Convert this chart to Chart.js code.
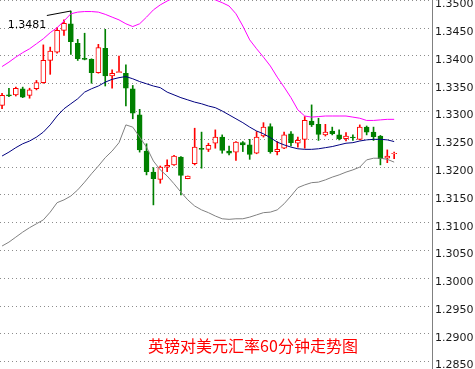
<!DOCTYPE html>
<html lang="zh-CN">
<head>
<meta charset="UTF-8">
<title>英镑对美元汇率60分钟走势图</title>
<script src="https://cdn.jsdelivr.net/npm/chart.js@4.4.0/dist/chart.umd.min.js"></script>
<style>
    html, body { margin: 0; padding: 0; background: #fff; }
    .chart-box { width: 475px; height: 369px; position: relative; }
</style>
</head>
<body>
<div class="chart-box"><canvas id="gbpChart"></canvas></div>
<script>
// hourly candles, oldest first
const opens  = [1.3311,1.3330,1.3330,1.3341,1.3329,1.3341,1.3352,1.3392,1.3407,1.3446,
                1.3458,1.3423,1.3396,1.3394,1.3370,1.3414,1.3364,1.3370,1.3369,1.3341,
                1.3294,1.3229,1.3191,1.3178,1.3200,1.3204,1.3218,1.3179,1.3206,1.3234,
                1.3232,1.3243,1.3254,1.3229,1.3227,1.3244,1.3240,1.3225,1.3256,1.3273,
                1.3228,1.3234,1.3260,1.3243,1.3250,1.3283,1.3277,1.3258,1.3265,1.3258,
                1.3251,1.3254,1.3250,1.3272,1.3263,1.3256,1.3216,1.3224];
const highs  = [1.3333,1.3342,1.3344,1.3344,1.3342,1.3356,1.3420,1.3416,1.3451,1.3465,
                1.3481,1.3430,1.3441,1.3395,1.3421,1.3448,1.3375,1.3400,1.3384,1.3347,
                1.3304,1.3242,1.3199,1.3202,1.3213,1.3221,1.3219,1.3184,1.3270,1.3263,
                1.3243,1.3267,1.3258,1.3238,1.3246,1.3246,1.3250,1.3264,1.3280,1.3278,
                1.3246,1.3263,1.3264,1.3254,1.3291,1.3312,1.3288,1.3277,1.3272,1.3267,
                1.3262,1.3258,1.3276,1.3274,1.3272,1.3257,1.3231,1.3227];
const lows   = [1.3305,1.3327,1.3328,1.3325,1.3324,1.3339,1.3351,1.3367,1.3405,1.3437,
                1.3403,1.3392,1.3393,1.3351,1.3369,1.3346,1.3342,1.3370,1.3310,1.3287,
                1.3227,1.3186,1.3132,1.3171,1.3192,1.3203,1.3150,1.3179,1.3204,1.3198,
                1.3228,1.3234,1.3225,1.3222,1.3212,1.3228,1.3214,1.3224,1.3254,1.3225,
                1.3222,1.3233,1.3238,1.3236,1.3234,1.3273,1.3248,1.3256,1.3258,1.3249,
                1.3247,1.3248,1.3249,1.3258,1.3248,1.3204,1.3208,1.3215];
const closes = [1.3329,1.3328,1.3342,1.3326,1.3339,1.3352,1.3392,1.3409,1.3446,1.3459,
                1.3426,1.3395,1.3394,1.3370,1.3415,1.3364,1.3369,1.3372,1.3342,1.3297,
                1.3231,1.3192,1.3179,1.3200,1.3203,1.3220,1.3185,1.3184,1.3236,1.3232,
                1.3239,1.3254,1.3230,1.3225,1.3245,1.3240,1.3223,1.3254,1.3272,1.3228,
                1.3232,1.3258,1.3244,1.3248,1.3284,1.3276,1.3259,1.3263,1.3260,1.3251,
                1.3256,1.3253,1.3272,1.3263,1.3255,1.3215,1.3220,1.3225];

// bollinger bands
const upperBand  = [1.3381,1.3389,1.3398,1.3406,1.3413,1.3422,1.3431,1.3442,1.3451,1.3463,
                    1.3476,1.3479,1.3480,1.3480,1.3479,1.3475,1.3470,1.3465,1.3458,1.3453,
                    1.3458,1.3470,1.3483,1.3492,1.3499,1.3505,1.3508,1.3510,1.3510,1.3508,
                    1.3505,1.3501,1.3496,1.3490,1.3476,1.3454,1.3429,1.3413,1.3398,1.3382,
                    1.3362,1.3344,1.3325,1.3303,1.3292,1.3290,1.3291,1.3292,1.3292,1.3292,
                    1.3292,1.3290,1.3288,1.3284,1.3284,1.3285,1.3286,1.3286];
const middleBand = [1.3220,1.3227,1.3235,1.3242,1.3247,1.3254,1.3263,1.3276,1.3292,1.3305,
                    1.3314,1.3323,1.3335,1.3341,1.3346,1.3353,1.3358,1.3361,1.3363,1.3359,
                    1.3354,1.3350,1.3346,1.3343,1.3335,1.3330,1.3325,1.3321,1.3317,1.3314,
                    1.3310,1.3307,1.3301,1.3294,1.3287,1.3280,1.3272,1.3265,1.3260,1.3253,
                    1.3245,1.3240,1.3236,1.3233,1.3232,1.3232,1.3233,1.3235,1.3237,1.3240,
                    1.3243,1.3244,1.3247,1.3249,1.3250,1.3250,1.3249,1.3246];
const lowerBand  = [1.3058,1.3065,1.3074,1.3083,1.3091,1.3098,1.3105,1.3119,1.3136,1.3141,
                    1.3148,1.3159,1.3173,1.3188,1.3202,1.3217,1.3229,1.3244,1.3276,1.3272,
                    1.3254,1.3236,1.3211,1.3195,1.3184,1.3170,1.3155,1.3141,1.3130,1.3123,
                    1.3118,1.3112,1.3107,1.3106,1.3107,1.3107,1.3110,1.3114,1.3118,1.3119,
                    1.3123,1.3134,1.3148,1.3163,1.3168,1.3172,1.3173,1.3177,1.3182,1.3186,
                    1.3191,1.3195,1.3200,1.3213,1.3216,1.3216,1.3214,1.3209];

const tickValues = [1.2850,1.2900,1.2950,1.3000,1.3050,1.3100,1.3150,1.3200,
                    1.3250,1.3300,1.3350,1.3400,1.3450,1.3500];

const peakIndex = 10;
const peakLabel = '1.3481';
const chartTitle = '英镑对美元汇率60分钟走势图';

const UP = '#ff0000';
const DOWN = '#008000';

const isUp = opens.map((o, i) => closes[i] >= o);
const bodies = opens.map((o, i) => ({ x: i, y: [o, closes[i]] }));
const wicks = lows.map((l, i) => ({ x: i, y: [l, highs[i]] }));
const toPoints = arr => arr.map((v, i) => ({ x: i, y: v }));

// peak marker + bottom caption
const overlayPlugin = {
    id: 'overlay',
    afterDatasetsDraw(chart) {
        const { ctx, scales, chartArea } = chart;
        const px = scales.x.getPixelForValue(peakIndex);
        const py = scales.y.getPixelForValue(highs[peakIndex]);
        ctx.save();
        ctx.strokeStyle = '#000';
        ctx.lineWidth = 1;
        ctx.beginPath();
        ctx.moveTo(px - 24, py + 4.5);
        ctx.lineTo(px, py);
        ctx.stroke();
        ctx.fillStyle = '#000';
        ctx.font = '11px "DejaVu Sans", sans-serif';
        ctx.textBaseline = 'alphabetic';
        ctx.textAlign = 'left';
        ctx.fillText(peakLabel, px - 63, py + 17);

        ctx.fillStyle = '#ff0000';
        ctx.font = '16px "Noto Sans CJK SC", sans-serif';
        ctx.textAlign = 'center';
        ctx.textBaseline = 'middle';
        ctx.fillText(chartTitle, chartArea.left + 253, 346);
        ctx.restore();
    }
};

new Chart(document.getElementById('gbpChart'), {
    type: 'bar',
    data: {
        datasets: [
            {
                type: 'line', data: toPoints(middleBand), borderColor: '#000080',
                borderWidth: 1, pointRadius: 0, tension: 0, order: 0
            },
            {
                type: 'line', data: toPoints(upperBand), borderColor: '#ff00ff',
                borderWidth: 1, pointRadius: 0, tension: 0, order: 0
            },
            {
                type: 'line', data: toPoints(lowerBand), borderColor: '#808080',
                borderWidth: 1, pointRadius: 0, tension: 0, order: 0
            },
            {
                data: bodies,
                backgroundColor: isUp.map(u => u ? '#ffffff' : DOWN),
                borderColor: isUp.map(u => u ? UP : DOWN),
                borderWidth: 1,
                borderSkipped: false,
                barThickness: 5,
                grouped: false,
                order: 1
            },
            {
                data: wicks,
                backgroundColor: isUp.map(u => u ? UP : DOWN),
                borderWidth: 0,
                barThickness: 1,
                grouped: false,
                order: 2
            }
        ]
    },
    options: {
        responsive: true,
        maintainAspectRatio: false,
        animation: false,
        layout: { padding: 0 },
        plugins: {
            legend: { display: false },
            tooltip: { enabled: false }
        },
        scales: {
            x: {
                type: 'linear',
                display: false,
                offset: false,
                min: -0.3,
                max: 62.5,
                grid: { display: false }
            },
            y: {
                position: 'right',
                min: 1.28366,
                max: 1.35008,
                afterBuildTicks: scale => {
                    scale.ticks = tickValues.map(v => ({ value: v }));
                },
                afterFit: scale => {
                    scale.width = 43;
                    scale.paddingTop = 0;
                    scale.paddingBottom = 0;
                },
                grid: { color: '#8c8c8c', lineWidth: 1, drawTicks: false },
                border: { display: true, color: '#808080', width: 1, dash: [1, 3] },
                ticks: {
                    padding: 3,
                    labelOffset: 4,
                    color: '#1a1a1a',
                    font: { family: '"DejaVu Sans", sans-serif', size: 11 },
                    callback: v => Number(v).toFixed(4)
                }
            }
        }
    },
    plugins: [overlayPlugin]
});
</script>
</body>
</html>
